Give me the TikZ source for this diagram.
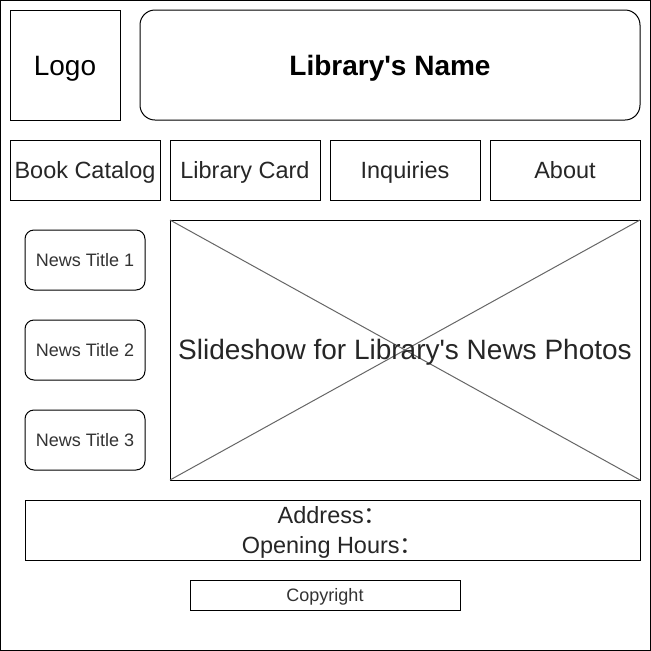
\documentclass[tikz,border=0pt]{standalone}
\usepackage{fontspec}
\setmainfont{Liberation Sans}
\newfontfamily\cjkfont{Noto Sans CJK SC}
\begin{document}
\begin{tikzpicture}[x=0.75pt,y=-0.75pt,
  box/.style={draw=black,line width=0.75pt,fill=white},
  rbox/.style={box,rounded corners=#1},
  big/.style={anchor=base,font=\fontsize{21}{25}\selectfont},
  navtxt/.style={anchor=base,font=\fontsize{17.6}{21}\selectfont, text=black!85},
  smalltxt/.style={anchor=base,font=\fontsize{13.5}{16}\selectfont, text=black!80},
  xline/.style={draw=black!60,line width=0.75pt}]
\useasboundingbox (0,0) rectangle (651,651);
\draw[line width=0.9pt] (0.5,0.5) rectangle (650.5,650.5);
% header
\draw[box] (10,10) rectangle (120,120);
\node[big] (logo) at (65,75) {Logo};
\draw[rbox=11.25pt] (140,10) rectangle (640,120);
\node[big,font=\fontsize{21}{25}\selectfont\bfseries] (name) at (390,75) {Library\textquotesingle s Name};
% nav
\draw[box] (10,140) rectangle (160,200);
\node[navtxt] (nav1) at (85,178) {Book Catalog};
\draw[box] (170,140) rectangle (320,200);
\node[navtxt] (nav2) at (245,178) {Library Card};
\draw[box] (330,140) rectangle (480,200);
\node[navtxt] (nav3) at (405,178) {Inquiries};
\draw[box] (490,140) rectangle (640,200);
\node[navtxt] (nav4) at (565,178) {About};
% news
\draw[rbox=6.75pt] (25,230) rectangle (145,290);
\node[smalltxt] (news1) at (85,266.5) {News Title 1};
\draw[rbox=6.75pt] (25,320) rectangle (145,380);
\node[smalltxt] (news2) at (85,356.5) {News Title 2};
\draw[rbox=6.75pt] (25,410) rectangle (145,470);
\node[smalltxt] (news3) at (85,446.5) {News Title 3};
% slideshow
\draw[box] (170,220) rectangle (640,480);
\draw[xline] (170,220) -- (640,480);
\draw[xline] (640,220) -- (170,480);
\node[big,text=black!85] (slide) at (405,359) {Slideshow for Library\textquotesingle s News Photos};
% footer
\draw[box] (25,500) rectangle (640,560);
\node[text=black!85,align=center,font=\fontsize{17.6}{22.5}\selectfont] (addr) at (332.5,532.5) {Address{\cjkfont ：}\\Opening Hours{\cjkfont ：}};
\draw[box] (190,580) rectangle (460,610);
\node[smalltxt] (copy) at (325,601) {Copyright};
\end{tikzpicture}
\end{document}
